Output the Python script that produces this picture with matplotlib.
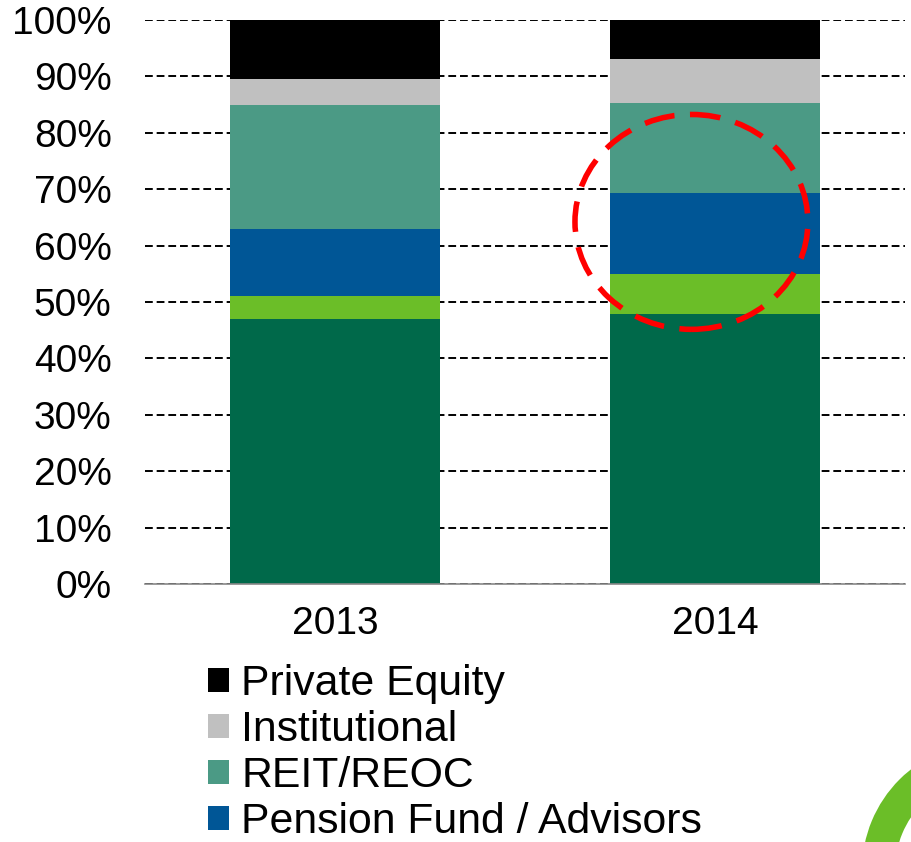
"""Stacked 100% bar chart — buyer mix 2013 vs 2014."""

import matplotlib.pyplot as plt
import numpy as np
from matplotlib.patches import Ellipse, Wedge
from matplotlib.transforms import IdentityTransform

plt.rcParams["font.family"] = ["Liberation Sans", "DejaVu Sans"]

# ── Data ──────────────────────────────────────────────────────────────────────
years = ["2013", "2014"]
# bottom to top
series_names = ["Other (hidden 1)", "Other (hidden 2)", "Pension Fund / Advisors",
                "REIT/REOC", "Institutional", "Private Equity"]
values_2013 = [46.9, 4.2, 11.8, 22.0, 4.6, 10.5]
values_2014 = [47.9, 7.1, 14.4, 15.9, 7.7, 7.0]
colors = ["#00694A", "#6BBE28", "#005696", "#4B9A85", "#C0C0C0", "#000000"]
legend_names = ["Private Equity", "Institutional", "REIT/REOC", "Pension Fund / Advisors"]
yticks = np.arange(0, 101, 10)

# ── Plot ──────────────────────────────────────────────────────────────────────
fig = plt.figure(figsize=(9.12, 8.42), dpi=100)
ax = fig.add_axes([145 / 912, 1 - 584 / 842, (905 - 145) / 912, (584 - 20) / 842])

x = np.arange(len(years))
data = np.array([values_2013, values_2014]).T
bottom = np.zeros(len(years))
handles = {}
for name, vals, col in zip(series_names, data, colors):
    b = ax.bar(x, vals, bottom=bottom, width=0.555, color=col, label=name, zorder=2)
    handles[name] = b
    bottom += vals

ax.set_xlim(-0.5, 1.5)
ax.set_ylim(0, 100)
ax.set_xticks(x, years)
ax.set_yticks(yticks, [f"{v}%" for v in yticks])
ax.tick_params(length=0, labelsize=28, pad=24)
ax.tick_params(axis="x", pad=16)
ax.yaxis.grid(True, color="black", linestyle=(0, (4, 2)), linewidth=1.4, zorder=0)
ax.set_axisbelow(True)
for s in ["left", "right", "top"]:
    ax.spines[s].set_visible(False)
ax.spines["bottom"].set_color("#888888")
ax.spines["bottom"].set_linewidth(1.2)

# red dashed highlight around 2014 middle segments
ell = Ellipse((0.938, 64.2), 0.613, 38.1, fill=False, edgecolor="#FF0000",
              linewidth=4, linestyle=(0, (5.5, 2.8)), zorder=5, clip_on=False)
ax.add_patch(ell)

leg = fig.legend([handles[n] for n in legend_names], legend_names,
                 loc="upper left", bbox_to_anchor=(208 / 912, 1 - 664 / 842),
                 frameon=False, fontsize=30.8, handlelength=0.5, handleheight=0.5,
                 handletextpad=0.28, labelspacing=0.14, borderpad=0, borderaxespad=0)

# green ring decoration in the bottom-right corner
ring = Wedge((990, 842 - 870), 128, 0, 360, width=33, facecolor="#6BBE28",
             edgecolor="none", transform=IdentityTransform())
fig.patches.append(ring)

fig.savefig("out.png", dpi=100)
plt.close(fig)
